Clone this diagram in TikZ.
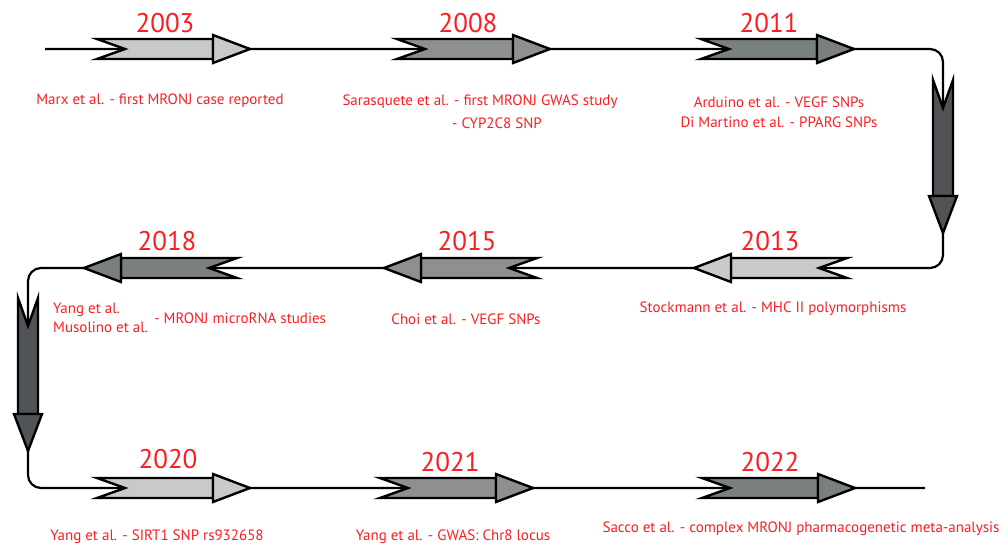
\documentclass[tikz,border=0pt]{standalone}
\usepackage{fontspec}
\setmainfont{PT Sans}
\usetikzlibrary{positioning}

\definecolor{tlRed}{RGB}{250,30,34}
\definecolor{tlLight}{RGB}{200,201,201}
\definecolor{tlMid}{RGB}{142,144,144}
\definecolor{tlDark}{RGB}{122,128,126}
\definecolor{tlDeep}{RGB}{80,84,86}

\begin{document}
\begin{tikzpicture}[
    x=1pt, y=-1pt,
    % --- estilos ---
    timeline/.style = {line width=2.2pt, rounded corners=13pt},
    year/.style     = {text=tlRed, font=\fontsize{27}{30}\selectfont, inner sep=0pt},
    desc/.style     = {text=tlRed, font=\fontsize{15}{20}\selectfont, align=center, inner sep=0pt},
    yeararrow/.pic  = {
        \filldraw[line width=2.4pt, fill=#1]
            (0,-10) -- (28,0) -- (0,10) -- (116,10) -- (116,-10) -- cycle;
        \filldraw[line width=2.4pt, fill=#1]
            (116,-14) -- (153,0) -- (116,14) -- cycle;
    }
]
\useasboundingbox (0,0) rectangle (1008,544);

% ===================== LINEA DE TIEMPO =====================
\coordinate (start) at (45,49);
\coordinate (c1)    at (943,49);
\coordinate (c2)    at (943,268);
\coordinate (c3)    at (28,268);
\coordinate (c4)    at (28,488);
\coordinate (stop)  at (925,488);
\draw[timeline] (start) -- (c1) -- (c2) -- (c3) -- (c4) -- (stop);

% ===================== FLECHAS =====================
\pic at (97,49)  {yeararrow=tlLight};
\pic at (397,49) {yeararrow=tlMid};
\pic at (701,49) {yeararrow=tlDark};
\pic[rotate=-90] at (943,80) {yeararrow=tlDeep};
\pic[rotate=180] at (847,268) {yeararrow=tlLight};
\pic[rotate=180] at (537,268) {yeararrow=tlMid};
\pic[rotate=180] at (237,268) {yeararrow=tlDark};
\pic[rotate=-90] at (28,298) {yeararrow=tlDeep};
\pic at (97,488)  {yeararrow=tlLight};
\pic at (380,488) {yeararrow=tlMid};
\pic at (702,488) {yeararrow=tlDark};

% ===================== AÑOS =====================
\node[year] (y2003) at (165,23)  {2003};
\node[year] (y2008) at (468,23)  {2008};
\node[year] (y2011) at (769,23)  {2011};
\node[year] (y2013) at (770,241) {2013};
\node[year] (y2015) at (467,241) {2015};
\node[year] (y2018) at (167,241) {2018};
\node[year] (y2020) at (168,459) {2020};
\node[year] (y2021) at (450,462) {2021};
\node[year] (y2022) at (770,462) {2022};

% ===================== DESCRIPCIONES =====================
\node[desc] (d2003) at (160,101) {Marx et al. - first MRONJ case reported};
\node[desc] (d2008) at (480,102) {Sarasquete et al. - first MRONJ GWAS study};
\node[desc, anchor=west] (d2008b) at (452,123) {- CYP2C8 SNP};
\node[desc] (d2011) at (779,112) {Arduino et al. - VEGF SNPs\\ Di Martino et al. - PPARG SNPs};
\node[desc] (d2013) at (773,309) {Stockmann et al. - MHC II polymorphisms};
\node[desc] (d2015) at (466,319) {Choi et al. - VEGF SNPs};
\node[desc, align=left, anchor=west, font=\fontsize{15}{19}\selectfont]
    (d2018) at (53,318) {Yang et al.\\ Musolino et al.};
\node[desc, right=6pt of d2018] (d2018b) {- MRONJ microRNA studies};
\node[desc] (d2020) at (157,537) {Yang et al. - SIRT1 SNP rs932658};
\node[desc] (d2021) at (453,537) {Yang et al. - GWAS: Chr8 locus};
\node[desc] (d2022) at (801,529) {Sacco et al. - complex MRONJ pharmacogenetic meta-analysis};

\end{tikzpicture}
\end{document}
